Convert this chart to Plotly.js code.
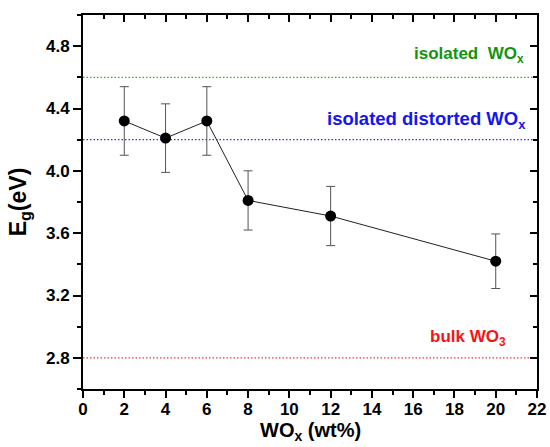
<!DOCTYPE html>
<html>
<head>
<meta charset="utf-8">
<script src="https://cdn.plot.ly/plotly-3.0.1.min.js"></script>
<style>
  html, body { margin: 0; padding: 0; background: #fff; }
  #chart { width: 550px; height: 447px; }
</style>
</head>
<body>
<div id="chart"></div>
<script>
// WOx loading (wt%) and measured band gap Eg (eV) with error bars
const loading = [2, 4, 6, 8, 12, 20];
const bandGap = [4.32, 4.21, 4.32, 3.81, 3.71, 3.42];
const bandGapErr = [0.22, 0.22, 0.22, 0.19, 0.19, 0.175];

// Reference band-gap levels
const refLevels = [4.6, 4.2, 2.8];
const refLabels = ['isolated  WO<sub>x</sub>', 'isolated distorted WO<sub>x</sub>', 'bulk WO<sub>3</sub>'];

// Axis titles
const xTitle = 'WO<sub>x</sub> (wt%)';
const yTitle = 'E<sub>g</sub>(eV)';

// Label styling for each reference level
const refColors = ['#129412', '#1414f5', '#f51414'];
const refLineColors = ['#2ab02a', '#3030ff', '#ff3030'];
const refLabelX = [21.45, 21.55, 20.6];
const refLabelY = [4.745, 4.325, 2.93];
const refLabelSize = [17, 18.5, 17];

const FONT = 'Liberation Sans, Arial, sans-serif';

const trace = {
  x: loading,
  y: bandGap,
  type: 'scatter',
  mode: 'lines+markers',
  line: { color: '#222', width: 1 },
  marker: { color: '#000', size: 11 },
  error_y: { type: 'data', array: bandGapErr, visible: true, color: '#555', thickness: 1, width: 4.5 },
  showlegend: false,
  hoverinfo: 'x+y'
};

const shapes = refLevels.map((v, i) => ({
  type: 'line', xref: 'paper', x0: 0, x1: 1, yref: 'y', y0: v, y1: v,
  line: { color: refLineColors[i], width: 1.2, dash: '1.5px,2px' }, layer: 'below'
}));

const annotations = refLevels.map((v, i) => ({
  x: refLabelX[i], y: refLabelY[i], xref: 'x', yref: 'y',
  xanchor: 'right', yanchor: 'middle', showarrow: false,
  text: refLabels[i],
  font: { family: FONT, size: refLabelSize[i], color: refColors[i], weight: 'bold' }
}));

// x-axis title placed below the tick labels, resting on the bottom edge
annotations.push({
  x: 0.5, y: -0.1535, xref: 'paper', yref: 'paper',
  xanchor: 'center', yanchor: 'bottom', showarrow: false,
  text: xTitle,
  font: { family: FONT, size: 20, color: '#000', weight: 'bold' }
});

const tickFont = { family: FONT, size: 17, color: '#000', weight: 'bold' };

const layout = {
  width: 550, height: 447,
  margin: { l: 83, r: 13, t: 15, b: 58 },
  paper_bgcolor: '#fff', plot_bgcolor: '#fff',
  font: { family: FONT, color: '#000' },
  xaxis: {
    range: [0, 22], dtick: 2, tick0: 0,
    showgrid: false, zeroline: false,
    showline: true, linecolor: '#000', linewidth: 2,
    ticks: 'outside', ticklen: 7, tickwidth: 2, tickcolor: '#000',
    minor: { dtick: 1, ticks: 'outside', ticklen: 4, tickwidth: 2, tickcolor: '#000' },
    tickfont: tickFont, ticklabelstandoff: -3
  },
  yaxis: {
    range: [2.6, 5.0], dtick: 0.4, tick0: 0.4, tickformat: '.1f',
    showgrid: false, zeroline: false,
    showline: true, linecolor: '#000', linewidth: 2,
    ticks: 'outside', ticklen: 8, tickwidth: 2, tickcolor: '#000',
    minor: { dtick: 0.2, ticks: 'outside', ticklen: 4, tickwidth: 2, tickcolor: '#000' },
    tickfont: tickFont,
    title: { text: yTitle, font: { family: FONT, size: 23, weight: 'bold' } }
  },
  xaxis2: {
    overlaying: 'x', side: 'top', matches: 'x', range: [0, 22], dtick: 2, tick0: 0,
    showgrid: false, zeroline: false, showticklabels: false,
    showline: true, linecolor: '#000', linewidth: 2,
    ticks: 'inside', ticklen: 7, tickwidth: 2, tickcolor: '#000',
    minor: { dtick: 1, ticks: 'inside', ticklen: 4, tickwidth: 2, tickcolor: '#000' }
  },
  yaxis2: {
    overlaying: 'y', side: 'right', range: [2.6, 5.0], dtick: 0.4, tick0: 0.4,
    showgrid: false, zeroline: false, showticklabels: false,
    showline: true, linecolor: '#000', linewidth: 2,
    ticks: 'inside', ticklen: 7, tickwidth: 2, tickcolor: '#000',
    minor: { dtick: 0.2, ticks: 'inside', ticklen: 4, tickwidth: 2, tickcolor: '#000' }
  },
  shapes: shapes,
  annotations: annotations
};

// Invisible trace that carries the mirrored top/right axes
const frameTrace = {
  x: [loading[0]], y: [bandGap[0]], xaxis: 'x2', yaxis: 'y2',
  type: 'scatter', mode: 'markers', marker: { opacity: 0 },
  showlegend: false, hoverinfo: 'skip'
};

Plotly.newPlot('chart', [frameTrace, trace], layout, { staticPlot: true, displayModeBar: false });
</script>
</body>
</html>
